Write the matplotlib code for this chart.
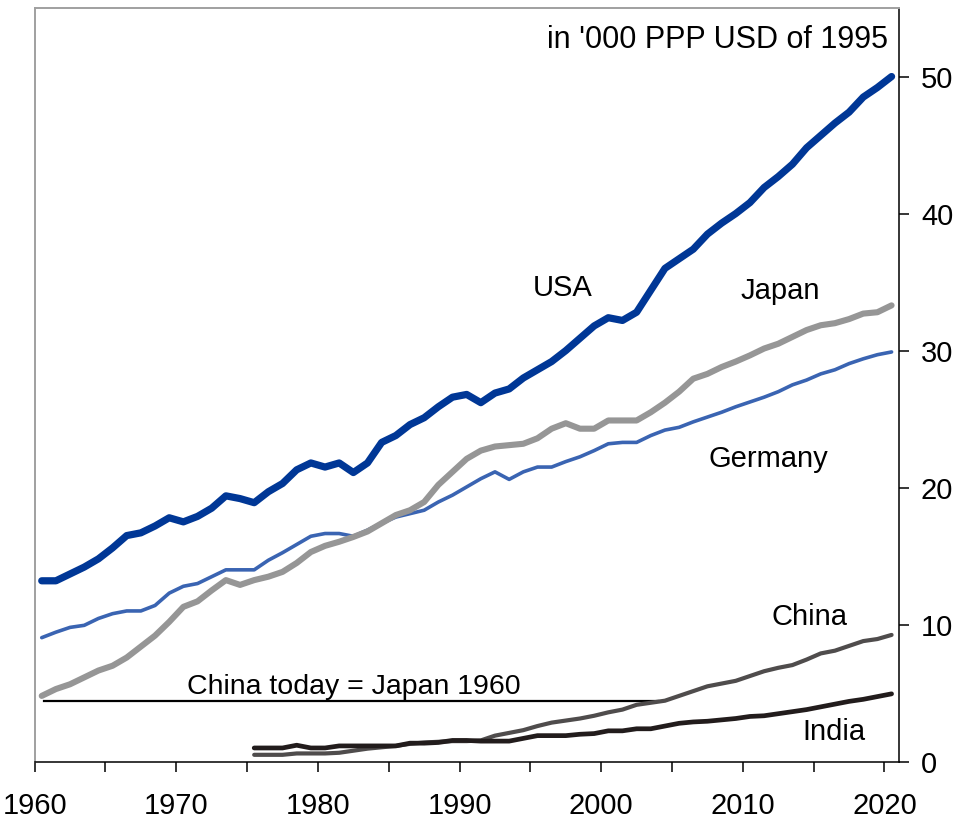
import numpy as np
import matplotlib
matplotlib.use("Agg")
import matplotlib.pyplot as plt

plt.rcParams["font.family"] = ["Liberation Sans", "DejaVu Sans"]

# GDP per capita, in '000 PPP USD of 1995
years = np.arange(1960, 2021)
usa = [13.2, 13.2, 13.7, 14.2, 14.8, 15.6, 16.5, 16.7, 17.2, 17.8,
       17.5, 17.9, 18.5, 19.4, 19.2, 18.9, 19.7, 20.3, 21.3, 21.8,
       21.5, 21.8, 21.1, 21.8, 23.3, 23.8, 24.6, 25.1, 25.9, 26.6,
       26.8, 26.2, 26.9, 27.2, 28.0, 28.6, 29.2, 30.0, 30.9, 31.8,
       32.4, 32.2, 32.8, 34.4, 36.0, 36.7, 37.4, 38.5, 39.3, 40.0,
       40.8, 41.9, 42.7, 43.6, 44.8, 45.7, 46.6, 47.4, 48.5, 49.2, 50.0]
japan = [4.8, 5.3, 5.65, 6.15, 6.65, 7.0, 7.6, 8.4, 9.2, 10.2,
         11.3, 11.7, 12.5, 13.25, 12.9, 13.25, 13.5, 13.85, 14.5, 15.3,
         15.75, 16.05, 16.4, 16.8, 17.4, 18.0, 18.35, 18.95, 20.2, 21.15,
         22.1, 22.7, 23.0, 23.1, 23.2, 23.6, 24.3, 24.7, 24.3, 24.3,
         24.9, 24.9, 24.9, 25.5, 26.2, 27.0, 27.95, 28.3, 28.8, 29.2,
         29.65, 30.15, 30.5, 31.0, 31.5, 31.85, 32.0, 32.3, 32.7, 32.8, 33.3]
germany = [9.05, 9.45, 9.8, 9.95, 10.45, 10.8, 11.0, 11.0, 11.4, 12.3,
           12.8, 13.0, 13.5, 14.0, 14.0, 14.0, 14.7, 15.25, 15.85, 16.45,
           16.65, 16.65, 16.45, 16.9, 17.4, 17.85, 18.1, 18.35, 18.95, 19.45,
           20.05, 20.65, 21.15, 20.6, 21.15, 21.5, 21.5, 21.9, 22.25, 22.7,
           23.2, 23.3, 23.3, 23.8, 24.2, 24.4, 24.8, 25.15, 25.5, 25.9,
           26.25, 26.6, 27.0, 27.5, 27.85, 28.3, 28.6, 29.05, 29.4, 29.7, 29.9]

years_asia = np.arange(1975, 2021)
china = [0.5, 0.5, 0.5, 0.6, 0.6,
         0.6, 0.65, 0.8, 0.95, 1.05, 1.15, 1.3, 1.4, 1.45, 1.5,
         1.5, 1.55, 1.9, 2.1, 2.3, 2.6, 2.85, 3.0, 3.15, 3.35,
         3.6, 3.8, 4.15, 4.3, 4.45, 4.8, 5.15, 5.5, 5.7, 5.9,
         6.25, 6.6, 6.85, 7.05, 7.45, 7.9, 8.1, 8.45, 8.8, 8.95, 9.25]
india = [1.0, 1.0, 1.0, 1.2, 1.0,
         1.0, 1.15, 1.15, 1.15, 1.15, 1.15, 1.35, 1.35, 1.4, 1.55,
         1.55, 1.5, 1.5, 1.5, 1.7, 1.9, 1.9, 1.9, 2.0, 2.05,
         2.25, 2.25, 2.4, 2.4, 2.6, 2.8, 2.9, 2.95, 3.05, 3.15,
         3.3, 3.35, 3.5, 3.65, 3.8, 4.0, 4.2, 4.4, 4.55, 4.75, 4.95]

# "China today = Japan 1960" reference line
ref_level = 4.43
ref_span = (1960.66, 2004.0)

FS = 21

fig = plt.figure(figsize=(9.6, 8.19), dpi=100)
ax = fig.add_axes([0.0361, 0.07, 0.9, 0.9202])

# Excel-style category axis: points sit mid-year between the ticks
mid = 0.5
line_kw = dict(solid_capstyle="round", solid_joinstyle="round")
ax.plot(years + mid, germany, color="#3a64b2", lw=2.6, **line_kw, zorder=3)
ax.plot(years + mid, japan, color="#969696", lw=4.4, **line_kw, zorder=4)
ax.plot(years + mid, usa, color="#003796", lw=5.2, **line_kw, zorder=5)
ax.plot(years_asia + mid, china, color="#4f4c4c", lw=3.0, **line_kw, zorder=3)
ax.plot(years_asia + mid, india, color="#221c1c", lw=3.4, **line_kw, zorder=4)
ax.plot(ref_span, [ref_level, ref_level], color="black", lw=1.6, zorder=2)

ax.text(1995.19, 33.96, "USA", fontsize=FS, ha="left", va="baseline")
ax.text(2009.81, 33.74, "Japan", fontsize=FS, ha="left", va="baseline")
ax.text(2007.55, 21.5, "Germany", fontsize=FS, ha="left", va="baseline")
ax.text(2012.05, 9.97, "China", fontsize=FS, ha="left", va="baseline")
ax.text(2014.17, 1.58, "India", fontsize=FS, ha="left", va="baseline")
ax.text(1970.76, 4.94, "China today = Japan 1960", fontsize=20.5,
        ha="left", va="baseline")
ax.text(2020.26, 52.11, "in '000 PPP USD of 1995", fontsize=22,
        ha="right", va="baseline")

ax.set_xlim(1960, 2021)
ax.set_ylim(0, 55)

xt = np.arange(1960, 2021, 5)
ax.set_xticks(xt)
ax.set_xticklabels([str(t) if t % 10 == 0 else "" for t in xt])
ax.set_yticks(np.arange(0, 51, 10))
ax.yaxis.tick_right()
ax.tick_params(axis="x", direction="out", length=7, width=1.1,
               labelsize=21, pad=15, colors="black")
ax.tick_params(axis="y", direction="out", length=7, width=1.1,
               labelsize=21, pad=9, left=False, right=True)

for side in ["left", "top"]:
    ax.spines[side].set_color("#a0a0a0")
    ax.spines[side].set_linewidth(1.4)
for side in ["right", "bottom"]:
    ax.spines[side].set_color("black")
    ax.spines[side].set_linewidth(1.1)

fig.savefig("out.png", dpi=100)
